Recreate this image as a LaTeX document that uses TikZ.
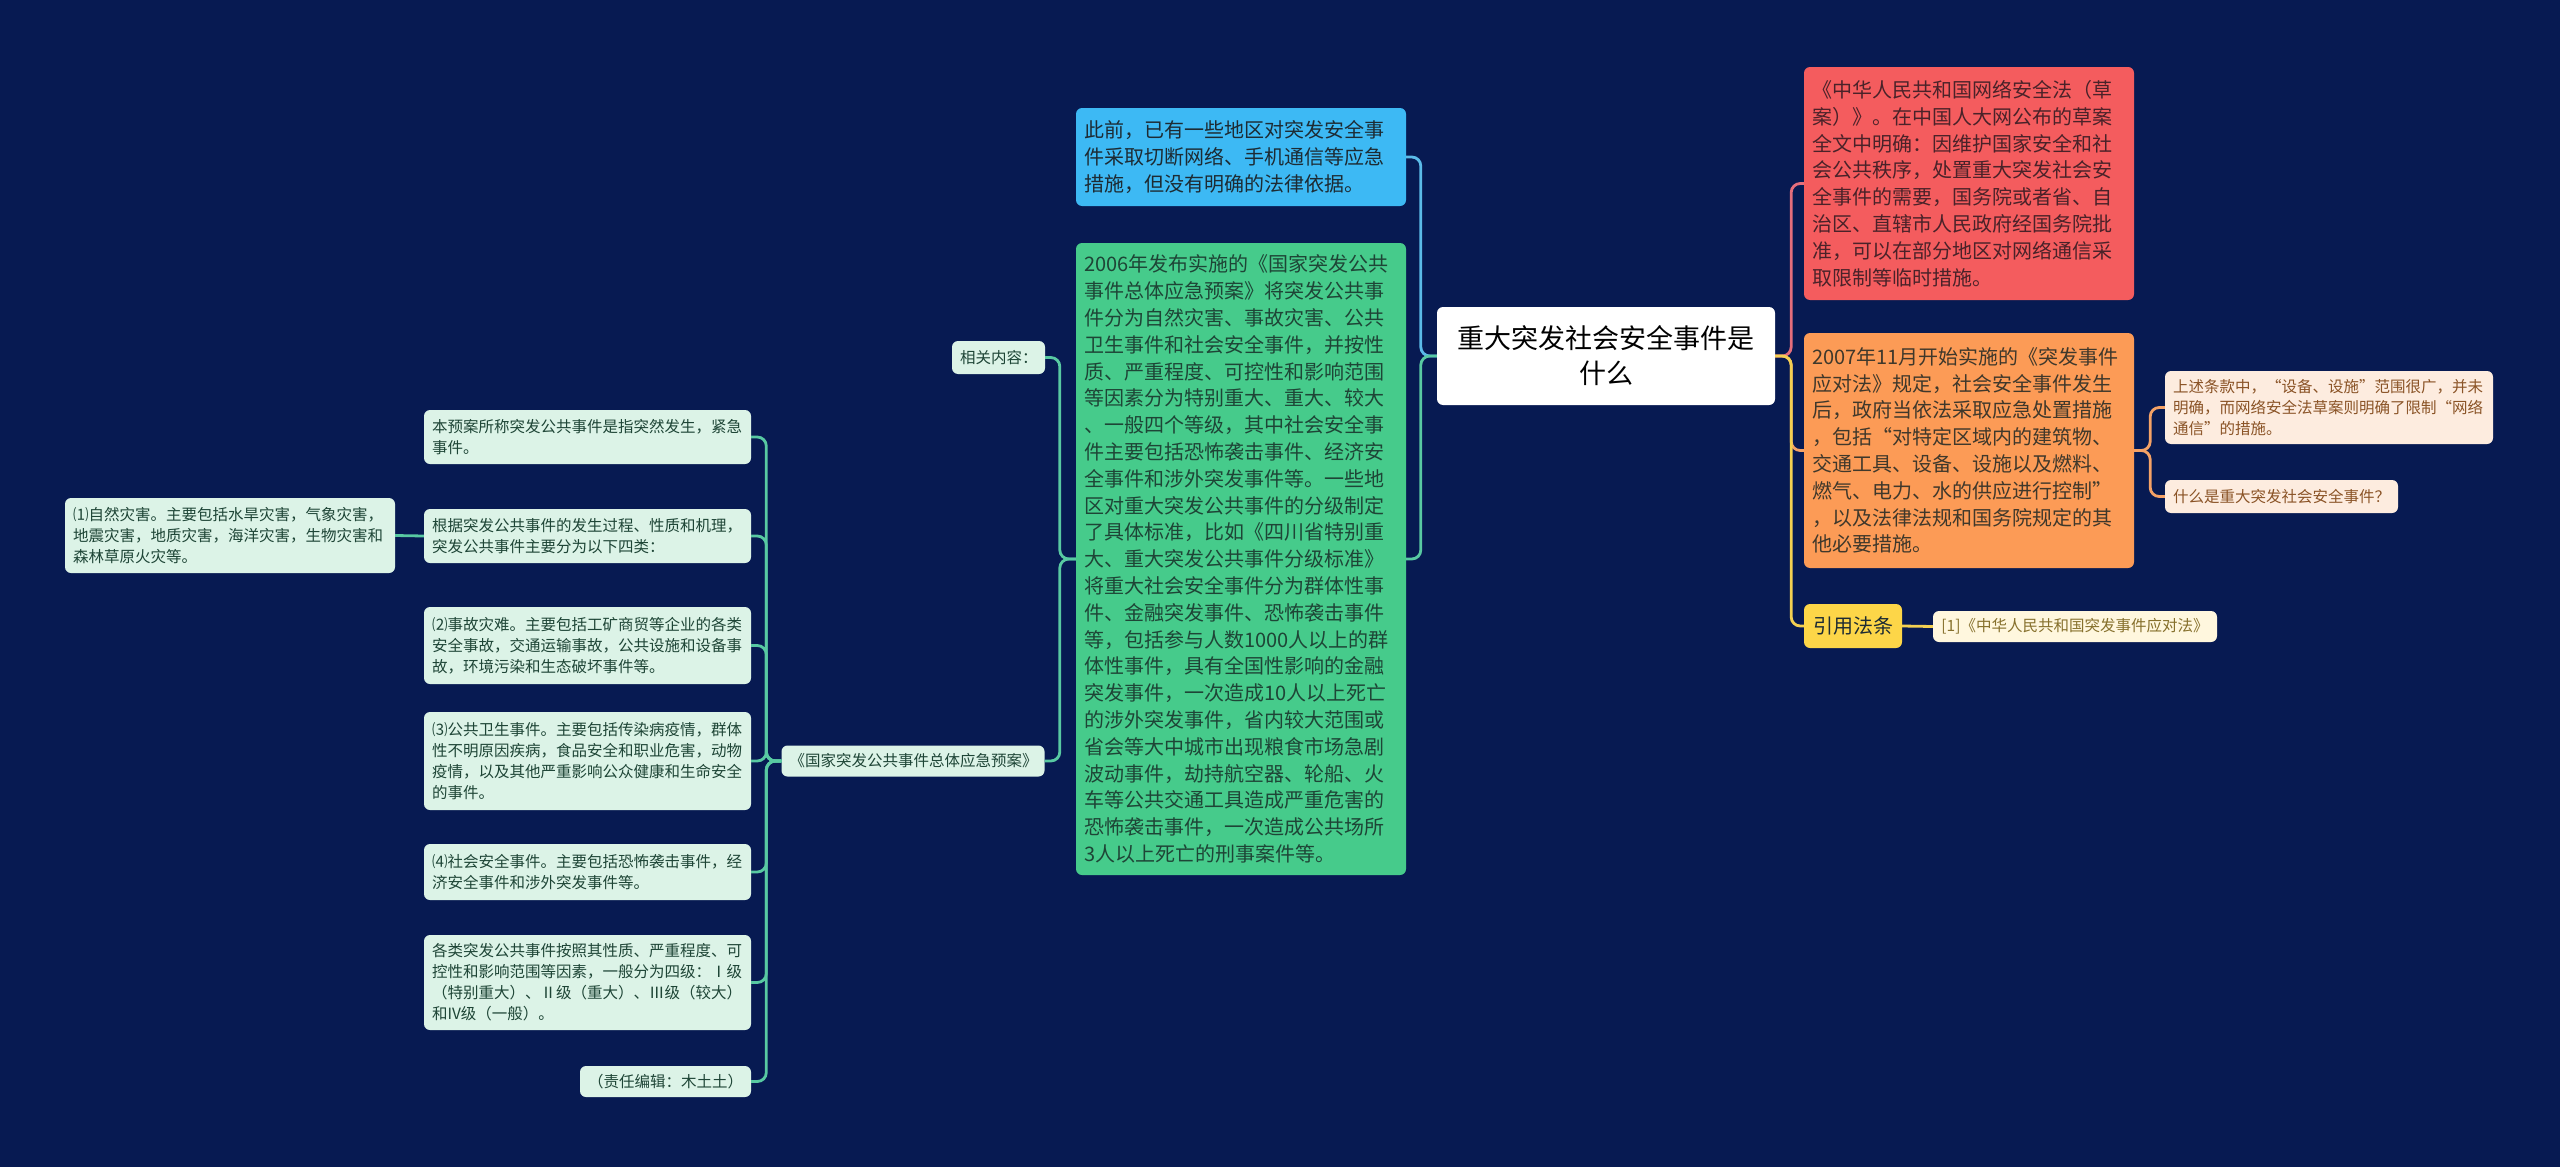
\documentclass[tikz,border=0pt]{standalone}
\usepackage{fontspec}
\setmainfont{Noto Sans CJK SC}
\usetikzlibrary{calc}
\definecolor{bg}{HTML}{071A52}
\definecolor{cblue}{HTML}{3DB9F4}
\definecolor{lblue}{HTML}{5BBBE8}
\definecolor{cgreen}{HTML}{46CB8B}
\definecolor{lgreen}{HTML}{58C9A2}
\definecolor{pgreen}{HTML}{DCF3E7}
\definecolor{tgreen}{HTML}{1E4536}
\definecolor{cred}{HTML}{F45C5E}
\definecolor{lred}{HTML}{E46E7C}
\definecolor{corange}{HTML}{FC9B56}
\definecolor{lorange}{HTML}{F5A266}
\definecolor{porange}{HTML}{FDECDF}
\definecolor{torange}{HTML}{8A5326}
\definecolor{cyellow}{HTML}{FDD648}
\definecolor{lyellow}{HTML}{F3D052}
\definecolor{pyellow}{HTML}{FFF7DE}
\definecolor{tyellow}{HTML}{86702C}
\definecolor{tdark}{HTML}{1D2B33}
\tikzset{
  box/.style={rounded corners=6pt, inner xsep=8pt, inner ysep=0pt, align=left},
  bigfont/.style={font=\fontsize{20pt}{26.8pt}\selectfont},
  smallfont/.style={font=\fontsize{15.5pt}{21pt}\selectfont},
  leafg/.style={box, smallfont, fill=pgreen, text=tgreen},
  leafo/.style={box, smallfont, fill=porange, text=torange},
  conn/.style={line width=2.8pt, rounded corners=9pt},
}
\begin{document}
\begin{tikzpicture}[x=1pt,y=-1pt]
\fill[bg] (0,0) rectangle (2560,1167);
\useasboundingbox (0,0) rectangle (2560,1167);

% center
\node[box, fill=white, text=black, align=center, text width=322pt, minimum height=98pt,
  font=\fontsize{27pt}{35pt}\selectfont] (ctr) at (1606,356) {重大突发社会安全事件是\\什么};

% left main branches
\node[box, bigfont, fill=cblue, text=tdark, text width=314pt, minimum height=98pt] (blue) at (1241,157)
 {此前，已有一些地区对突发安全事\\件采取切断网络、手机通信等应急\\措施，但没有明确的法律依据。};
\node[box, bigfont, fill=cgreen, text=tgreen, text width=314pt, minimum height=632pt] (green) at (1241,559)
 {2006年发布实施的《国家突发公共\\事件总体应急预案》将突发公共事\\件分为自然灾害、事故灾害、公共\\卫生事件和社会安全事件，并按性\\质、严重程度、可控性和影响范围\\等因素分为特别重大、重大、较大\\、一般四个等级，其中社会安全事\\件主要包括恐怖袭击事件、经济安\\全事件和涉外突发事件等。一些地\\区对重大突发公共事件的分级制定\\了具体标准，比如《四川省特别重\\大、重大突发公共事件分级标准》\\将重大社会安全事件分为群体性事\\件、金融突发事件、恐怖袭击事件\\等，包括参与人数1000人以上的群\\体性事件，具有全国性影响的金融\\突发事件，一次造成10人以上死亡\\的涉外突发事件，省内较大范围或\\省会等大中城市出现粮食市场急剧\\波动事件，劫持航空器、轮船、火\\车等公共交通工具造成严重危害的\\恐怖袭击事件，一次造成公共场所\\3人以上死亡的刑事案件等。};

\node[leafg, align=center, text width=77pt, minimum height=33pt] (xg) at (998.5,357.5) {相关内容：};
\node[leafg, align=center, text width=247pt, minimum height=31pt] (guo) at (913,761) {《国家突发公共事件总体应急预案》};

\node[leafg, text width=311pt, minimum height=54pt] (L0) at (587.5,437) {本预案所称突发公共事件是指突然发生，紧急\\事件。};
\node[leafg, text width=311pt, minimum height=54pt] (L1) at (587.5,536) {根据突发公共事件的发生过程、性质和机理，\\突发公共事件主要分为以下四类：};
\node[leafg, text width=311pt, minimum height=77pt] (L2) at (587.5,645.5) {⑵事故灾难。主要包括工矿商贸等企业的各类\\安全事故，交通运输事故，公共设施和设备事\\故，环境污染和生态破坏事件等。};
\node[leafg, text width=311pt, minimum height=98pt] (L3) at (587.5,761) {⑶公共卫生事件。主要包括传染病疫情，群体\\性不明原因疾病，食品安全和职业危害，动物\\疫情，以及其他严重影响公众健康和生命安全\\的事件。};
\node[leafg, text width=311pt, minimum height=56pt] (L4) at (587.5,872) {⑷社会安全事件。主要包括恐怖袭击事件，经\\济安全事件和涉外突发事件等。};
\node[leafg, text width=311pt, minimum height=95pt] (L5) at (587.5,982.5) {各类突发公共事件按照其性质、严重程度、可\\控性和影响范围等因素，一般分为四级：Ⅰ级\\（特别重大）、Ⅱ级（重大）、Ⅲ级（较大）\\和IV级（一般）。};
\node[leafg, align=center, text width=155pt, minimum height=31pt] (L6) at (665.5,1081.5) {（责任编辑：木土土）};
\node[leafg, text width=314pt, minimum height=75pt] (N1) at (230,535.5) {⑴自然灾害。主要包括水旱灾害，气象灾害，\\地震灾害，地质灾害，海洋灾害，生物灾害和\\森林草原火灾等。};

% right branches
\node[box, bigfont, fill=cred, text=tdark!80!red, text width=314pt, minimum height=233pt] (red) at (1969,183.5)
 {《中华人民共和国网络安全法（草\\案）》。在中国人大网公布的草案\\全文中明确：因维护国家安全和社\\会公共秩序，处置重大突发社会安\\全事件的需要，国务院或者省、自\\治区、直辖市人民政府经国务院批\\准，可以在部分地区对网络通信采\\取限制等临时措施。};
\node[box, bigfont, fill=corange, text=tdark!85!orange, text width=314pt, minimum height=235pt] (orange) at (1969,450.5)
 {2007年11月开始实施的《突发事件\\应对法》规定，社会安全事件发生\\后，政府当依法采取应急处置措施\\，包括“对特定区域内的建筑物、\\交通工具、设备、设施以及燃料、\\燃气、电力、水的供应进行控制”\\，以及法律法规和国务院规定的其\\他必要措施。};
\node[leafo, text width=312pt, minimum height=73pt] (R1) at (2329,407.5) {上述条款中，“设备、设施”范围很广，并未\\明确，而网络安全法草案则明确了限制“网络\\通信”的措施。};
\node[leafo, text width=217pt, minimum height=33pt] (R2) at (2281.5,496.5) {什么是重大突发社会安全事件？};
\node[box, bigfont, fill=cyellow, text=tdark, align=center, text width=82pt, minimum height=44pt] (yel) at (1853,626) {引用法条};
\node[box, smallfont, fill=pyellow, text=tyellow, align=center, text width=268pt, minimum height=31pt] (Y1) at (2075,626.5) {[1]《中华人民共和国突发事件应对法》};

% connectors
\coordinate (tl) at ($(ctr.west)+(-16,0)$);
\coordinate (tr) at ($(ctr.east)+(16,0)$);
\draw[conn, lblue] (ctr.west) -- (tl) |- (blue.east);
\draw[conn, lgreen] (ctr.west) -- (tl) |- (green.east);
\coordinate (tg) at ($(green.west)+(-16,0)$);
\draw[conn, lgreen] (green.west) -- (tg) |- (xg.east);
\draw[conn, lgreen] (green.west) -- (tg) |- (guo.east);
\coordinate (tq) at ($(guo.west)+(-15,0)$);
\foreach \n in {L0,L1,L2,L3,L4,L5,L6}{
  \draw[conn, lgreen] (guo.west) -- (tq) |- (\n.east);
}
\draw[conn, lgreen] (L1.west) -- (N1.east);
\draw[conn, lred] (ctr.east) -- (tr) |- (red.west);
\draw[conn, lorange] (ctr.east) -- (tr) |- (orange.west);
\draw[conn, lyellow] (ctr.east) -- (tr) |- (yel.west);
\coordinate (to) at ($(orange.east)+(16,0)$);
\draw[conn, lorange] (orange.east) -- (to) |- (R1.west);
\draw[conn, lorange] (orange.east) -- (to) |- (R2.west);
\draw[conn, lyellow] (yel.east) -- (Y1.west);
\end{tikzpicture}
\end{document}
